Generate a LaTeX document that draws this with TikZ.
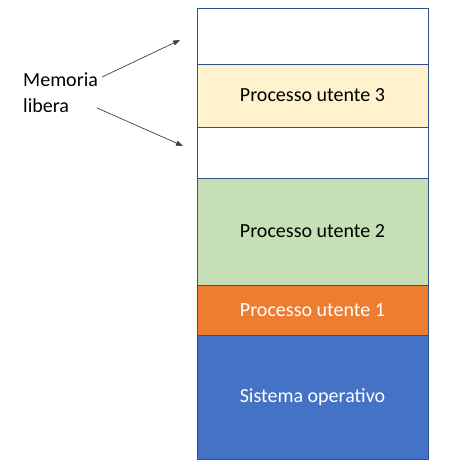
\documentclass[tikz,border=0pt]{standalone}
\usepackage{fontspec}
\setmainfont{Carlito}
\usetikzlibrary{arrows.meta,positioning,calc}
\definecolor{memBorder}{RGB}{47,82,143}
\definecolor{memYellow}{RGB}{255,242,204}
\definecolor{memGreen}{RGB}{197,224,180}
\definecolor{memOrange}{RGB}{237,125,49}
\definecolor{memBlue}{RGB}{68,114,196}
\tikzset{
	memblock/.style={draw=memBorder,line width=.8pt,minimum width=231pt,inner sep=0pt,outer sep=0pt,font=\fontsize{20}{24}\selectfont},
	pointer/.style={draw=black!75,line width=.7pt,-{Triangle[length=7pt,width=5pt]}},
}
\begin{document}
\begin{tikzpicture}[x=1pt,y=1pt,node distance=0pt]
\useasboundingbox (0,0) rectangle (470,-476);
\node [memblock,minimum height=56pt,fill=white,anchor=north west] (free1) at(197,-8){};
\node [memblock,minimum height=63pt,fill=memYellow,below=of free1] (proc3){Processo utente 3};
\node [memblock,minimum height=51pt,fill=white,below=of proc3] (free2){};
\node [memblock,minimum height=107pt,fill=memGreen,below=of free2] (proc2){Processo utente 2};
\node [memblock,minimum height=50pt,fill=memOrange,text=white,below=of proc2] (proc1){Processo utente 1};
\node [memblock,minimum height=124pt,fill=memBlue,text=white,below=of proc1] (os){Sistema operativo};
\node [align=left,anchor=west,inner sep=2pt,font=\fontsize{20}{26}\selectfont] (mem) at(21,-93){Memoria\\libera};
\coordinate (tip1) at(180,-40);
\coordinate (tip2) at(183,-146);
\draw [pointer] ([xshift=2pt,yshift=16pt]mem.east) -- (tip1);
\draw [pointer] ([xshift=-3pt,yshift=-15pt]mem.east) -- (tip2);
\end{tikzpicture}
\end{document}
